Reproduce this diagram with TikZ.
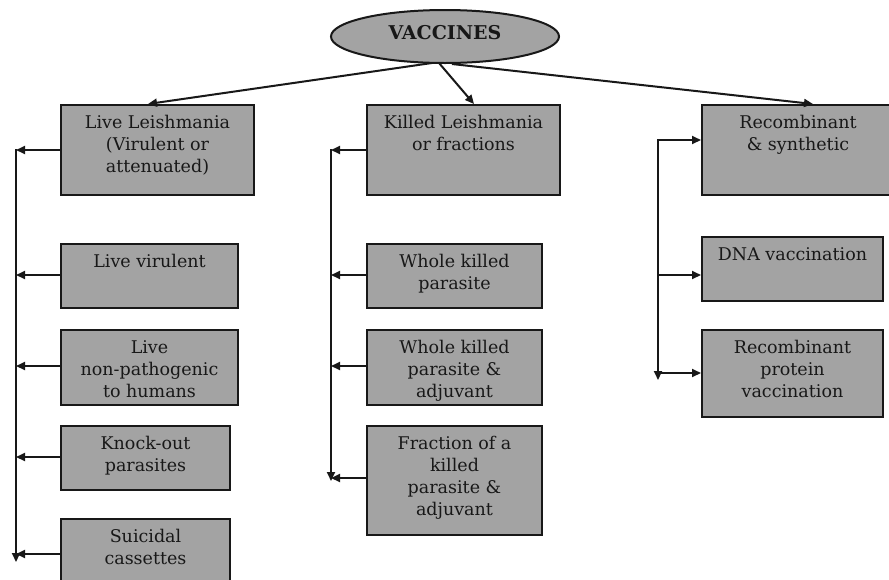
\documentclass[tikz,border=0pt]{standalone}
\usepackage{fontspec}
\setmainfont{DejaVu Serif}
\usetikzlibrary{arrows.meta,shapes.geometric}
\definecolor{boxgray}{RGB}{163,163,163}
\definecolor{ink}{RGB}{24,24,24}
\tikzset{
  box/.style={draw=ink, line width=2pt, fill=boxgray, rectangle, inner sep=0pt, anchor=north west},
  oval/.style={draw=ink, line width=2pt, fill=boxgray, ellipse, inner sep=0pt,
               minimum width=228pt, minimum height=53pt},
  boxtext/.style={anchor=north, align=center, text=ink, inner sep=0pt,
              font=\fontsize{17.5}{22}\selectfont},
  link/.style={draw=ink, line width=2pt, -{Triangle[length=9pt,width=8pt]}},
  trunk/.style={draw=ink, line width=2pt, line cap=rect, -{Triangle[length=9pt,width=8pt]}}
}
\begin{document}
\begin{tikzpicture}[x=1pt,y=-1pt]
\clip (0,0) rectangle (889,579);
\fill[white] (0,0) rectangle (889,579);

% root
\node[oval] (vac) at (445,36.5) {};
\node[boxtext, anchor=center, font=\bfseries\fontsize{19}{22}\selectfont] (vact) at ([yshift=3.5pt]vac.center) {VACCINES};

% first-level boxes
\node[box, minimum width=193pt, minimum height=90pt] (live) at (60,104) {};
\node[box, minimum width=193pt, minimum height=90pt] (kill) at (366,104) {};
\node[box, minimum width=192pt, minimum height=90pt] (reco) at (701,104) {};
\node[boxtext] (livet) at ([yshift=-11pt]live.north) {Live Leishmania\\(Virulent or\\attenuated)};
\node[boxtext] (killt) at ([yshift=-11pt]kill.north) {Killed Leishmania\\or fractions};
\node[boxtext] (recot) at ([yshift=-11pt]reco.north) {Recombinant\\\& synthetic};

% live branch
\node[box, minimum width=177pt, minimum height=64pt] (lv) at (60,243) {};
\node[box, minimum width=177pt, minimum height=75pt] (np) at (60,329) {};
\node[box, minimum width=169pt, minimum height=64pt] (ko) at (60,425) {};
\node[box, minimum width=169pt, minimum height=72pt] (sc) at (60,518) {};
\node[boxtext] (lvt) at ([yshift=-11pt]lv.north) {Live virulent};
\node[boxtext] (npt) at ([yshift=-11pt]np.north) {Live\\non-pathogenic\\to humans};
\node[boxtext] (kot) at ([yshift=-11pt]ko.north) {Knock-out\\parasites};
\node[boxtext] (sct) at ([yshift=-11pt]sc.north) {Suicidal\\cassettes};

% killed branch
\node[box, minimum width=175pt, minimum height=64pt] (wk) at (366,243) {};
\node[box, minimum width=175pt, minimum height=75pt] (wa) at (366,329) {};
\node[box, minimum width=175pt, minimum height=109pt] (fr) at (366,425) {};
\node[boxtext] (wkt) at ([yshift=-11pt]wk.north) {Whole killed\\parasite};
\node[boxtext] (wat) at ([yshift=-11pt]wa.north) {Whole killed\\parasite \&\\adjuvant};
\node[boxtext] (frt) at ([yshift=-11pt]fr.north) {Fraction of a\\killed\\parasite \&\\adjuvant};

% recombinant branch
\node[box, minimum width=181pt, minimum height=64pt] (dna) at (701,236) {};
\node[box, minimum width=181pt, minimum height=87pt] (rp) at (701,329) {};
\node[boxtext] (dnat) at ([yshift=-11pt]dna.north) {DNA vaccination};
\node[boxtext] (rpt) at ([yshift=-11pt]rp.north) {Recombinant\\protein\\vaccination};

% root to first level
\draw[link] ([xshift=-13pt,yshift=1pt]vac.south) -- ([xshift=-9.5pt]live.north);
\draw[link] ([xshift=-6pt,yshift=1pt]vac.south) -- ([xshift=10.5pt]kill.north);
\draw[link] ([xshift=7pt]vac.south) -- ([xshift=15pt]reco.north);

% left trunk
\coordinate (lt) at (16,150);
\coordinate (lb) at (16,562);
\draw[trunk] (lt) -- (lb);
\draw[link] (live.west |- lt) -- (lt);
\draw[link] (lv.west |- 0,275) -- (lt |- 0,275);
\draw[link] (np.west |- 0,366) -- (lt |- 0,366);
\draw[link] (ko.west |- 0,457) -- (lt |- 0,457);
\draw[link] (sc.west |- 0,554) -- (lt |- 0,554);

% middle trunk
\coordinate (mt) at (331,150);
\coordinate (mb) at (331,481);
\draw[trunk] (mt) -- (mb);
\draw[link] (kill.west |- mt) -- (mt);
\draw[link] (wk.west |- 0,275) -- (mt |- 0,275);
\draw[link] (wa.west |- 0,366) -- (mt |- 0,366);
\draw[link] (fr.west |- 0,478) -- (mt |- 0,478);

% right trunk
\coordinate (rt) at (658,140);
\coordinate (rb) at (658,380);
\draw[trunk] (rt) -- (rb);
\draw[link] (rt) -- (rt -| reco.west);
\draw[link] (rt |- 0,275) -- (dna.west |- 0,275);
\draw[link] (rt |- 0,373) -- (rp.west |- 0,373);
\end{tikzpicture}
\end{document}
